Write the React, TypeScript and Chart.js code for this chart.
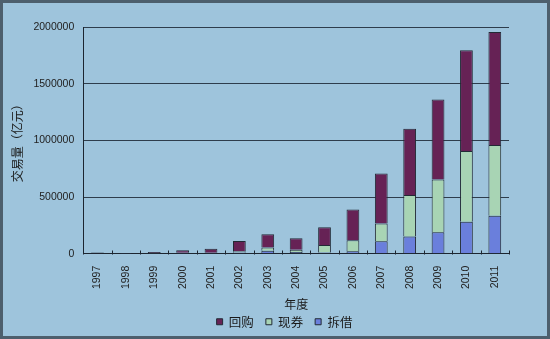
import React, { useEffect, useRef } from "react";
import { Chart, registerables } from "chart.js";
Chart.register(...registerables);

const years = ["1997", "1998", "1999", "2000", "2001", "2002", "2003", "2004", "2005", "2006", "2007", "2008", "2009", "2010", "2011"];
// 拆借 (bottom, blue)
const chaijie = [4000, 2000, 3000, 7000, 8000, 12000, 26000, 15000, 12000, 22000, 110000, 151000, 190000, 282000, 336000];
// 现券 (middle, green)
const xianquan = [0, 0, 500, 1000, 1000, 10000, 28000, 20000, 65000, 96000, 156000, 367000, 464000, 624000, 624000];
// 回购 (top, purple)
const huigou = [6000, 1000, 11000, 22000, 35000, 91000, 118000, 101000, 157000, 273000, 441000, 584000, 706000, 890000, 996000];
const yTicks = [0, 500000, 1000000, 1500000, 2000000];

export default function App() {
  const ref = useRef<HTMLCanvasElement>(null);
  useEffect(() => {
    document.body.style.margin = "0";
    const bgPlugin = {
      id: "bg",
      beforeDraw(chart: any) {
        const { ctx, width, height } = chart;
        ctx.save();
        ctx.fillStyle = "#9ec4dc";
        ctx.fillRect(0, 0, width, height);
        ctx.strokeStyle = "#4d5f6d";
        ctx.lineWidth = 3;
        ctx.strokeRect(1.5, 1.5, width - 3, height - 3);
        ctx.restore();
      },
    };
    const tickPlugin = {
      id: "innerTicks",
      afterDraw(chart: any) {
        const { ctx } = chart;
        const xs = chart.scales.x;
        const ys = chart.scales.y;
        const base = Math.round(ys.getPixelForValue(0)) + 0.5;
        const step = xs.getPixelForValue(1) - xs.getPixelForValue(0);
        ctx.save();
        ctx.strokeStyle = "#1c2530";
        ctx.lineWidth = 1;
        for (let i = 0; i <= years.length; i++) {
          const px = Math.round(xs.getPixelForValue(i) - step / 2) + 0.5;
          ctx.beginPath();
          ctx.moveTo(px, base);
          ctx.lineTo(px, base - 4);
          ctx.stroke();
        }
        ctx.restore();
      },
    };
    const border = "#222a35";
    const numFont = { family: "'Liberation Sans', Arial, sans-serif", size: 10.5 };
    const cjkFont = { family: "'Noto Sans CJK SC', sans-serif", size: 12 };
    const chart = new Chart(ref.current!, {
      type: "bar",
      data: {
        labels: years,
        datasets: [
          { label: "拆借", data: chaijie, backgroundColor: "#6a7fdc", borderColor: border, borderWidth: 1, barPercentage: 0.45, categoryPercentage: 1 },
          { label: "现券", data: xianquan, backgroundColor: "#a8d4b4", borderColor: border, borderWidth: 1, barPercentage: 0.45, categoryPercentage: 1 },
          { label: "回购", data: huigou, backgroundColor: "#662255", borderColor: border, borderWidth: 1, barPercentage: 0.45, categoryPercentage: 1 },
        ],
      },
      options: {
        animation: false,
        responsive: true,
        maintainAspectRatio: false,
        layout: { padding: { left: 6, right: -13, top: 27, bottom: 1 } },
        plugins: {
          title: {
            display: true,
            position: "right",
            text: "",
            font: { size: 1 },
            padding: { top: 26.4, bottom: 26.4 },
          },
          legend: {
            position: "bottom",
            reverse: true,
            labels: {
              boxWidth: 6,
              boxHeight: 6,
              padding: 12,
              color: "#1a1a1a",
              font: { family: "'Noto Sans CJK SC', sans-serif", size: 12.5 },
            },
          },
          tooltip: { enabled: false },
        },
        scales: {
          x: {
            stacked: true,
            grid: { display: false, drawTicks: false },
            border: { display: true, color: "#1c2530", width: 1 },
            ticks: {
              minRotation: 90,
              maxRotation: 90,
              padding: 12,
              color: "#222",
              font: numFont,
            },
            title: {
              display: true,
              text: "年度",
              color: "#1a1a1a",
              padding: { top: -4, bottom: -8 },
              font: cjkFont,
            },
          },
          y: {
            stacked: true,
            min: 0,
            max: 2000000,
            afterBuildTicks(scale: any) {
              scale.ticks = yTicks.map((v) => ({ value: v }));
            },
            grid: { color: "#2e3d4c", lineWidth: 1, drawTicks: false },
            border: { display: true, color: "#1c2530", width: 1 },
            ticks: {
              padding: 9,
              color: "#222",
              font: numFont,
              callback: (v: any) => String(v),
            },
            title: {
              display: true,
              text: "交易量（亿元）",
              color: "#1a1a1a",
              padding: { top: 4, bottom: 0 },
              font: cjkFont,
            },
          },
        },
      },
      plugins: [bgPlugin, tickPlugin],
    } as any);
    return () => chart.destroy();
  }, []);
  return (
    <div style={{ width: 550, height: 339, position: "relative" }}>
      <canvas ref={ref} />
    </div>
  );
}
